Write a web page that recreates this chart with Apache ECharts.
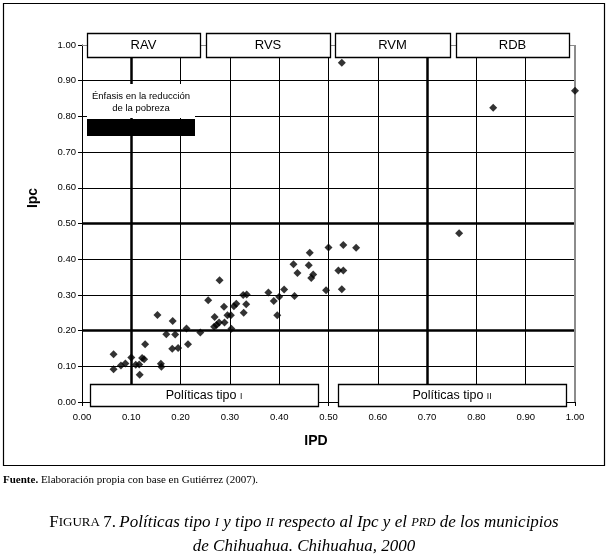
<!DOCTYPE html>
<html><head><meta charset="utf-8">
<script src="https://cdn.jsdelivr.net/npm/echarts@6.0.0/dist/echarts.min.js"></script>
<style>html,body{margin:0;padding:0;background:#fff}#c{width:609px;height:557px}</style>
</head><body><div id="c"></div>
<script>
// ---- data ----
const ipd = [0.064,0.064,0.079,0.088,0.100,0.109,0.116,0.117,0.122,0.126,0.128,0.160,0.161,0.153,0.171,0.184,0.189,0.183,0.195,0.212,0.215,0.240,0.256,0.279,0.269,0.268,0.273,0.278,0.288,0.289,0.295,0.302,0.303,0.308,0.313,0.327,0.334,0.333,0.328,0.378,0.389,0.400,0.396,0.410,0.431,0.429,0.437,0.462,0.460,0.469,0.465,0.495,0.500,0.530,0.556,0.520,0.530,0.527,0.765,0.527,0.834,1.000];
const ipc = [0.134,0.092,0.102,0.108,0.125,0.104,0.105,0.076,0.123,0.120,0.162,0.107,0.099,0.244,0.190,0.227,0.189,0.149,0.151,0.206,0.162,0.195,0.285,0.341,0.238,0.211,0.216,0.223,0.267,0.223,0.243,0.243,0.205,0.268,0.275,0.300,0.301,0.274,0.250,0.307,0.283,0.295,0.243,0.315,0.297,0.386,0.361,0.418,0.383,0.357,0.347,0.313,0.433,0.440,0.432,0.368,0.368,0.316,0.473,0.950,0.824,0.872];
const xTickLabels = ['0.00','0.10','0.20','0.30','0.40','0.50','0.60','0.70','0.80','0.90','1.00'];
const yTickLabels = ['0.00','0.10','0.20','0.30','0.40','0.50','0.60','0.70','0.80','0.90','1.00'];
const topBoxLabels = ['RAV','RVS','RVM','RDB'];
const thickX = [0.1, 0.7];
const thickY = [0.2, 0.5];

const chart = echarts.init(document.getElementById('c'), null, {renderer:'canvas'});
const F = 'Liberation Sans, Arial, sans-serif';
const SERIF = 'Liberation Serif, DejaVu Serif, serif';

const topBoxes = [[87,200],[206,330],[335,450],[456,569]];
const g = [];
g.push({type:'rect', shape:{x:3.5,y:3.5,width:601,height:462}, style:{fill:'none',stroke:'#000',lineWidth:1.2}, z:1, silent:true});
topBoxLabels.forEach((t,i)=>{
  const [a,b] = topBoxes[i];
  g.push({type:'rect', shape:{x:a+0.5,y:33.5,width:b-a,height:24}, style:{fill:'#fff',stroke:'#000',lineWidth:1.3}, z:100});
  g.push({type:'text', x:(a+b)/2, y:45.5, style:{text:t, font:'13px '+F, fill:'#000', align:'center', verticalAlign:'middle'}, z:101});
});
// emphasis label
g.push({type:'rect', shape:{x:87,y:84,width:108,height:34}, style:{fill:'#fff'}, z:100});
g.push({type:'text', x:141, y:96, style:{text:'Énfasis en la reducción', font:'9.5px '+F, fill:'#000', align:'center', verticalAlign:'middle'}, z:101});
g.push({type:'text', x:141, y:108, style:{text:'de la pobreza', font:'9.5px '+F, fill:'#000', align:'center', verticalAlign:'middle'}, z:101});
g.push({type:'rect', shape:{x:87,y:119,width:108,height:17}, style:{fill:'#000'}, z:100});
// bottom boxes
const botBoxes = [[90,318,'I'],[338,566,'II']];
botBoxes.forEach(([a,b,s])=>{
  g.push({type:'rect', shape:{x:a+0.5,y:384.5,width:b-a,height:22}, style:{fill:'#fff',stroke:'#000',lineWidth:1.3}, z:100});
  g.push({type:'text', x:(a+b)/2, y:396, style:{text:'Políticas tipo {sc|'+s+'}', font:'12.5px '+F, fill:'#000', align:'center', verticalAlign:'middle', rich:{sc:{fontSize:8.5, fontFamily:F, fill:'#000', padding:[2,0,0,0]}}}, z:101});
});
// axis names
g.push({type:'text', x:316, y:441, style:{text:'IPD', font:'bold 14px '+F, fill:'#000', align:'center', verticalAlign:'middle'}, z:101});
g.push({type:'text', x:33, y:198, rotation:Math.PI/2, style:{text:'Ipc', font:'bold 14px '+F, fill:'#000', align:'center', verticalAlign:'middle'}, z:101});
// source
g.push({type:'text', x:3, y:480, style:{text:'{b|Fuente.} Elaboración propia con base en Gutiérrez (2007).', font:'11px '+SERIF, fill:'#000', verticalAlign:'middle', rich:{b:{fontWeight:'bold', fontSize:11, fontFamily:SERIF}}}, z:101});
// caption
const capRich = {
  r:{fontSize:17, fontFamily:SERIF, fill:'#000'},
  s:{fontSize:13, fontFamily:SERIF, fill:'#000'},
  i:{fontSize:17, fontFamily:SERIF, fontStyle:'italic', fill:'#000'},
  is:{fontSize:12.5, fontFamily:SERIF, fontStyle:'italic', fill:'#000'}
};
g.push({type:'text', x:304, y:523, style:{text:'{r|F}{s|IGURA} {r|7.} {i|Políticas tipo }{is|I}{i| y tipo }{is|II}{i| respecto al Ipc y el }{is|PRD}{i| de los municipios}', align:'center', verticalAlign:'middle', rich:capRich}, z:101});
g.push({type:'text', x:304, y:547, style:{text:'{i|de Chihuahua. Chihuahua, 2000}', align:'center', verticalAlign:'middle', rich:capRich}, z:101});

const ml = [];
thickX.forEach(v=>ml.push({xAxis:v, lineStyle:{color:'#000', width:2.5, type:'solid'}}));
thickY.forEach(v=>ml.push({yAxis:v, lineStyle:{color:'#000', width:2.5, type:'solid'}}));
ml.push({xAxis:1, lineStyle:{color:'#8c8c8c', width:2, type:'solid'}});
ml.push({yAxis:1, lineStyle:{color:'#8c8c8c', width:1, type:'solid'}});

const axisCommon = {
  type:'value', min:0, max:1, interval:0.1,
  axisLine:{show:true, onZero:false, lineStyle:{color:'#000', width:1}},
  axisTick:{show:true, length:4, lineStyle:{color:'#000'}},
  splitLine:{show:true, showMinLine:false, showMaxLine:false, lineStyle:{color:'#000', width:1}},
};
chart.setOption({
  animation:false,
  backgroundColor:'#fff',
  grid:{left:82, right:34, top:45, bottom:155, containLabel:false},
  xAxis:Object.assign({}, axisCommon, {
    axisLabel:{color:'#000', fontSize:9.5, fontFamily:F, margin:10, formatter:(v)=>xTickLabels[Math.round(v*10)]}
  }),
  yAxis:Object.assign({}, axisCommon, {
    axisLabel:{color:'#000', fontSize:9.5, fontFamily:F, margin:6, formatter:(v)=>yTickLabels[Math.round(v*10)]}
  }),
  graphic:g,
  series:[
    {type:'scatter', data:[], z:1, silent:true,
     markLine:{silent:true, symbol:['none','none'], label:{show:false}, animation:false, data:ml}},
    {type:'scatter', z:5, symbol:'diamond', symbolSize:8, silent:true,
     itemStyle:{color:'#000'},
     data: ipd.map((x,i)=>[x, ipc[i]])}
  ]
});
</script></body></html>
